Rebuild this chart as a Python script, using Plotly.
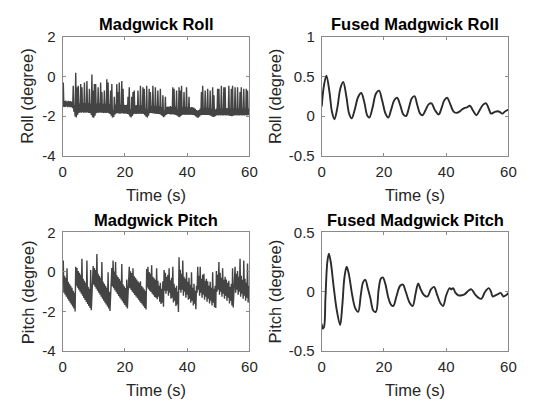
import numpy as np
import plotly.graph_objects as go

# ---------------- data ----------------
x_tickvals = [0, 20, 40, 60]
x_ticktext = ["0", "20", "40", "60"]
y_raw_tickvals = [-4, -2, 0, 2]
y_raw_ticktext = ["-4", "-2", "0", "2"]
y_froll_tickvals = [-0.5, 0, 0.5, 1]
y_froll_ticktext = ["-0.5", "0", "0.5", "1"]
y_fpitch_tickvals = [-0.5, 0, 0.5]
y_fpitch_ticktext = ["-0.5", "0", "0.5"]

roll_madgwick = [
    -1.52, -0.31, -1.55, -1.25, -1.54, -1.22, -1.52, -1.27, -1.55, -1.23,
    -1.53, -1.26, -1.56, -1.24, -1.55, -1.30, -1.60, -0.47, -1.78, -1.45,
    -2.02, 0.18, -2.07, -0.55, -1.95, -0.47, -1.84, -1.36, -1.82, -0.39,
    -1.83, -0.55, -1.81, -1.34, -1.84, -0.31, -1.82, -1.36, -1.83, -0.23,
    -1.82, -1.35, -1.84, -0.63, -1.85, -1.38, -1.95, 0.10, -2.06, -0.71,
    -2.09, -0.39, -1.99, -0.39, -1.86, -1.37, -1.83, -0.55, -1.84, -1.36,
    -1.82, -0.31, -1.84, -0.79, -1.83, -1.38, -1.85, -0.71, -1.83, -1.37,
    -1.85, -0.15, -1.84, -0.31, -1.86, -1.40, -1.90, -0.71, -1.99, -0.39,
    -2.08, -1.70, -2.05, -1.03, -1.94, -1.42, -1.87, -0.39, -1.86, -0.79,
    -1.87, -0.31, -1.88, -1.42, -1.87, -0.23, -1.86, -0.63, -1.88, -1.44,
    -1.87, -1.45, -1.88, -1.43, -1.89, -1.03, -1.92, -0.55, -2.02, -1.66,
    -2.07, -1.03, -2.00, -0.79, -1.91, -0.71, -1.88, -1.46, -1.89, -1.45,
    -1.88, -0.71, -1.89, -1.47, -1.88, -0.47, -1.89, -1.46, -1.88, -0.55,
    -1.90, -0.63, -1.96, -1.64, -2.04, -0.47, -2.07, -1.68, -1.98, -0.63,
    -1.86, -0.79, -1.85, -1.48, -1.86, -0.47, -1.87, -1.49, -1.88, -0.55,
    -1.88, -1.50, -1.89, -0.71, -1.90, -1.51, -1.91, -0.63, -1.94, -1.55,
    -2.00, -0.95, -2.06, -1.72, -2.02, -1.03, -1.95, -1.55, -1.91, -1.52,
    -1.90, -1.53, -1.91, -1.50, -1.92, -1.54, -1.91, -0.55, -1.92, -0.63,
    -1.93, -1.54, -1.95, -0.71, -1.98, -1.65, -2.03, -0.55, -2.06, -0.71,
    -2.00, -0.47, -1.94, -1.55, -1.93, -0.79, -1.94, -1.54, -1.93, -0.55,
    -1.94, -1.56, -1.93, -1.03, -1.94, -1.57, -1.93, -1.55, -1.94, -1.56,
    -1.95, -1.58, -1.97, -1.64, -2.02, -1.70, -2.07, -1.72, -2.08, -1.70,
    -2.02, -1.62, -1.96, -0.79, -1.95, -0.47, -1.94, -1.58, -1.95, -0.71,
    -1.94, -1.59, -1.95, -0.63, -1.94, -1.60, -1.96, -0.71, -1.98, -1.63,
    -2.02, -0.55, -2.05, -0.95, -2.04, -1.68, -1.99, -1.62, -1.96, -0.63,
    -1.97, -0.63, -1.96, -1.60, -1.97, -0.47, -1.96, -1.61, -1.97, -0.55,
    -1.96, -0.55, -1.97, -1.60, -1.96, -1.61, -1.97, -0.47, -1.98, -1.62,
    -2.00, -0.63, -2.01, -0.47, -1.99, -1.62, -1.97, -0.55, -1.96, -1.61,
    -1.97, -0.55, -1.96, -1.62, -1.97, -0.79, -1.96, -0.55, -1.97, -1.61,
    -1.96, -0.63, -1.97, -1.62, -1.96, -0.63, -1.97, -0.71, -1.96, -1.62,
    -1.95,
]

pitch_madgwick = [
    -0.55, 0.58, -1.05, -0.20, -1.15, -0.30, -1.25, 0.18, -1.35, -0.50,
    -1.45, -0.60, -1.55, -0.70, -1.65, -0.80, -1.75, -0.95, -1.85, -1.05,
    -2.00, 0.26, -0.70, 0.20, -0.80, 0.05, -0.90, -0.05, -1.00, -0.15,
    -1.10, 0.66, -1.20, -0.35, -1.32, -0.45, -1.42, -0.55, -1.52, 0.58,
    -1.62, -0.75, -1.72, -0.85, -1.82, 0.10, -1.93, -1.05, -0.55, 0.30,
    -0.65, 0.20, -0.75, 0.10, -0.85, 0.90, -0.95, -0.10, -1.05, -0.20,
    -1.15, -0.30, -1.25, 0.50, -1.35, -0.50, -1.45, -0.60, -1.55, -0.70,
    -1.65, -0.80, -1.75, -0.02, -1.85, -1.00, -1.97, -1.10, -0.65, 0.20,
    -0.74, 0.58, -0.83, 0.02, -0.93, 0.50, -1.02, -0.17, -1.11, -0.26,
    -1.21, -0.35, -1.30, -0.45, -1.39, 0.40, -1.48, -0.63, -1.58, -0.72,
    -1.67, -0.82, -1.76, -0.39, -1.85, -1.00, -0.75, 0.26, -0.83, 0.03,
    -0.91, -0.06, -1.00, 0.18, -1.08, -0.22, -1.16, -0.30, -1.24, -0.38,
    -1.32, -0.47, -1.41, -0.55, -1.49, -0.47, -1.57, -0.71, -1.65, -0.79,
    -1.73, -0.88, -1.82, -0.96, -1.90, 0.15, -0.79, 0.26, -0.87, -0.01,
    -0.95, -0.08, -1.02, 0.34, -1.10, -0.24, -1.18, -0.32, -1.26, -0.40,
    -1.30, 0.18, -1.38, -0.45, -1.25, -0.70, -1.50, -0.55, -1.62, -0.85,
    -1.55, -0.47, -1.76, 0.10, -0.95, -0.05, -1.10, -0.25, -0.95, -0.15,
    -1.20, 0.18, -1.05, -0.42, -1.35, -0.30, -1.30, 0.26, -1.55, -0.60,
    -1.45, -0.80, -1.72, -0.70, -1.65, -1.00, -2.02, 0.74, -0.90, 0.11,
    -1.05, -0.10, -0.90, 0.58, -1.20, -0.25, -1.00, -0.35, -1.30, -0.02,
    -1.15, -0.50, -1.40, -0.30, -1.35, -0.65, -1.55, -0.02, -1.45, -0.80,
    -1.70, -0.60, -1.60, -0.95, -1.88, -0.70, -1.05, 0.26, -0.90, -0.20,
    -1.20, 0.26, -1.05, -0.35, -1.30, -0.15, -1.15, -0.10, -1.40, -0.45,
    -1.25, -0.35, -1.50, -0.47, -1.35, -0.70, -1.60, -0.50, -1.45, -0.80,
    -1.70, -0.02, -1.55, -0.85, -1.78, -0.70, -1.82, 0.05, -1.00, -0.15,
    -0.90, 0.50, -1.15, -0.05, -1.00, -0.30, -1.25, 0.18, -1.10, -0.40,
    -1.35, -0.25, -1.20, -0.39, -1.45, -0.55, -1.30, -0.45, -1.60, -0.75,
    -1.45, -0.60, -1.70, 0.18, -1.80, -0.90, -0.95, 0.26, -1.05, -0.10,
    -0.90, 0.05, -1.15, -0.25, -1.00, 0.66, -1.25, -0.20, -1.10, -0.40,
    -1.35, 0.58, -1.20, -0.35, -1.45, -0.55, -1.30, 0.42, -1.55, -0.70,
    -0.90,
]

fused_roll_t = [0, 0.7, 1.5, 2.5, 3.3, 4.1, 5.0, 6.0, 6.9, 7.9, 8.8, 9.6, 10.6, 11.7,
                12.7, 13.7, 14.6, 15.3, 16.3, 17.4, 18.4, 19.4, 20.5, 21.4, 22.3, 23.3,
                24.2, 25.2, 26.2, 27.1, 28.0, 28.9, 29.8, 30.7, 31.6, 32.4, 33.3, 34.4,
                35.3, 36.3, 37.6, 38.5, 39.4, 40.3, 41.2, 42.3, 43.2, 44.0, 45.0, 45.8,
                46.7, 47.6, 48.6, 49.7, 50.7, 51.8, 52.8, 53.7, 54.4, 55.5, 56.5, 57.3,
                58.0, 59.0, 60.0]
fused_roll_v = [0.12, 0.38, 0.51, 0.30, 0.05, -0.04, 0.10, 0.35, 0.43, 0.25, 0.03, -0.03,
                0.08, 0.24, 0.29, 0.17, 0.01, -0.02, 0.10, 0.28, 0.32, 0.20, 0.03, -0.02,
                0.08, 0.20, 0.23, 0.14, 0.02, 0.00, 0.10, 0.22, 0.25, 0.14, 0.03, 0.01,
                0.07, 0.15, 0.16, 0.08, 0.02, 0.10, 0.20, 0.23, 0.16, 0.06, 0.04, 0.05,
                0.08, 0.10, 0.11, 0.13, 0.07, 0.01, 0.07, 0.14, 0.16, 0.09, 0.03, 0.05,
                0.06, 0.05, 0.03, 0.06, 0.08]

fused_pitch_t = [0, 0.3, 0.7, 1.2, 1.8, 2.3, 2.9, 3.8, 4.8, 5.9, 6.6, 7.3, 8.0, 8.7,
                 9.8, 10.8, 11.7, 12.6, 13.3, 14.0, 14.8, 15.6, 16.6, 17.4, 18.3, 19.0,
                 19.6, 20.4, 21.4, 22.3, 23.0, 24.0, 25.2, 26.1, 27.0, 28.2, 29.2, 30.2,
                 31.0, 31.8, 32.9, 34.0, 35.1, 36.1, 37.0, 38.2, 39.0, 40.0, 41.1, 41.6,
                 42.2, 43.0, 43.9, 45.0, 46.0, 47.2, 48.1, 49.2, 50.3, 51.3, 52.5, 53.7,
                 54.4, 54.9, 55.8, 56.7, 57.5, 58.4, 59.2, 60.0]
fused_pitch_v = [-0.27, -0.31, -0.30, -0.05, 0.25, 0.32, 0.25, 0.05, -0.15, -0.28, -0.12,
                 0.12, 0.21, 0.15, -0.03, -0.14, -0.17, -0.02, 0.08, 0.10, 0.03, -0.05,
                 -0.16, -0.17, 0.02, 0.11, 0.12, 0.07, -0.05, -0.11, -0.12, -0.04, 0.05,
                 0.06, 0.00, -0.09, -0.12, -0.01, 0.07, 0.02, -0.03, -0.04, 0.02, 0.04,
                 -0.02, -0.10, -0.12, -0.03, 0.03, 0.02, 0.03, -0.01, -0.03, -0.03, -0.02,
                 0.01, 0.02, -0.02, -0.05, -0.06, 0.00, 0.03, 0.00, -0.04, -0.03, -0.02,
                 -0.01, -0.04, -0.03, -0.01]

titles = ["Madgwick Roll", "Fused Madgwick Roll", "Madgwick Pitch", "Fused Madgwick Pitch"]
ylabels = ["Roll (degree)", "Roll (degree)", "Pitch (degree)", "Pitch (degree)"]
xlabel = "Time (s)"

# ---------------- figure ----------------
W, H = 536, 408
FONT = "Liberation Sans, Arial, sans-serif"
raw_color = "#444444"
fused_color = "#2b2b2b"

t_raw = np.linspace(0, 60, len(roll_madgwick))

fig = go.Figure()
fig.add_trace(go.Scatter(x=t_raw, y=roll_madgwick, mode="lines",
                         line=dict(color=raw_color, width=1.4), xaxis="x", yaxis="y"))
fig.add_trace(go.Scatter(x=fused_roll_t, y=fused_roll_v, mode="lines",
                         line=dict(color=fused_color, width=1.9, shape="spline", smoothing=1.0),
                         xaxis="x2", yaxis="y2"))
fig.add_trace(go.Scatter(x=t_raw, y=pitch_madgwick, mode="lines",
                         line=dict(color=raw_color, width=1.4), xaxis="x3", yaxis="y3"))
fig.add_trace(go.Scatter(x=fused_pitch_t, y=fused_pitch_v, mode="lines",
                         line=dict(color=fused_color, width=1.9, shape="spline", smoothing=1.0),
                         xaxis="x4", yaxis="y4"))

def px_x(p):
    return p / W

def px_y(p):
    return 1 - p / H

left_dom = [px_x(60), px_x(251)]
right_dom = [px_x(325), px_x(516)]
top_dom = [px_y(153), px_y(29)]
bot_dom = [px_y(357), px_y(233)]

axis_common = dict(showline=True, linecolor="#8a8a8a", linewidth=1, mirror="ticks",
                   ticks="inside", ticklen=3, tickcolor="#8a8a8a", tickwidth=1,
                   showgrid=False, zeroline=False, fixedrange=True,
                   tickfont=dict(family=FONT, size=15, color="#262626"))

def xa(dom, anchor):
    return dict(axis_common, domain=dom, anchor=anchor, range=[0, 60],
                tickmode="array", tickvals=x_tickvals, ticktext=x_ticktext,
                ticklabelstandoff=2)

def ya(dom, anchor, rng, tv, tt):
    return dict(axis_common, domain=dom, anchor=anchor, range=rng,
                tickmode="array", tickvals=tv, ticktext=tt, ticklabelstandoff=3)

fig.update_layout(
    width=W, height=H, margin=dict(l=0, r=0, t=0, b=0),
    paper_bgcolor="white", plot_bgcolor="white", showlegend=False,
    xaxis=xa(left_dom, "y"),
    yaxis=ya(top_dom, "x", [-4, 2], y_raw_tickvals, y_raw_ticktext),
    xaxis2=xa(right_dom, "y2"),
    yaxis2=ya(top_dom, "x2", [-0.5, 1], y_froll_tickvals, y_froll_ticktext),
    xaxis3=xa(left_dom, "y3"),
    yaxis3=ya(bot_dom, "x3", [-4, 2], y_raw_tickvals, y_raw_ticktext),
    xaxis4=xa(right_dom, "y4"),
    yaxis4=ya(bot_dom, "x4", [-0.5, 0.5], y_fpitch_tickvals, y_fpitch_ticktext),
)

anns = []
centers_x = [sum(left_dom) / 2, sum(right_dom) / 2, sum(left_dom) / 2, sum(right_dom) / 2]
title_y = [px_y(16), px_y(16), px_y(220), px_y(220)]
xlabel_y = [px_y(194), px_y(194), px_y(398), px_y(398)]
ylabel_x = [px_x(24), px_x(277), px_x(24), px_x(277)]
ylabel_y = [px_y(91), px_y(91), px_y(295), px_y(295)]
for k in range(4):
    anns.append(dict(text="<b>%s</b>" % titles[k], x=centers_x[k], y=title_y[k],
                     xref="paper", yref="paper", xanchor="center", yanchor="middle",
                     showarrow=False, font=dict(family=FONT, size=16.5, color="#000000")))
    anns.append(dict(text=xlabel, x=centers_x[k], y=xlabel_y[k],
                     xref="paper", yref="paper", xanchor="center", yanchor="middle",
                     showarrow=False, font=dict(family=FONT, size=16.5, color="#262626")))
    anns.append(dict(text=ylabels[k], x=ylabel_x[k], y=ylabel_y[k], textangle=-90,
                     xref="paper", yref="paper", xanchor="center", yanchor="middle",
                     showarrow=False, font=dict(family=FONT, size=16.5, color="#262626")))
fig.update_layout(annotations=anns)

fig.write_html("out.html")
